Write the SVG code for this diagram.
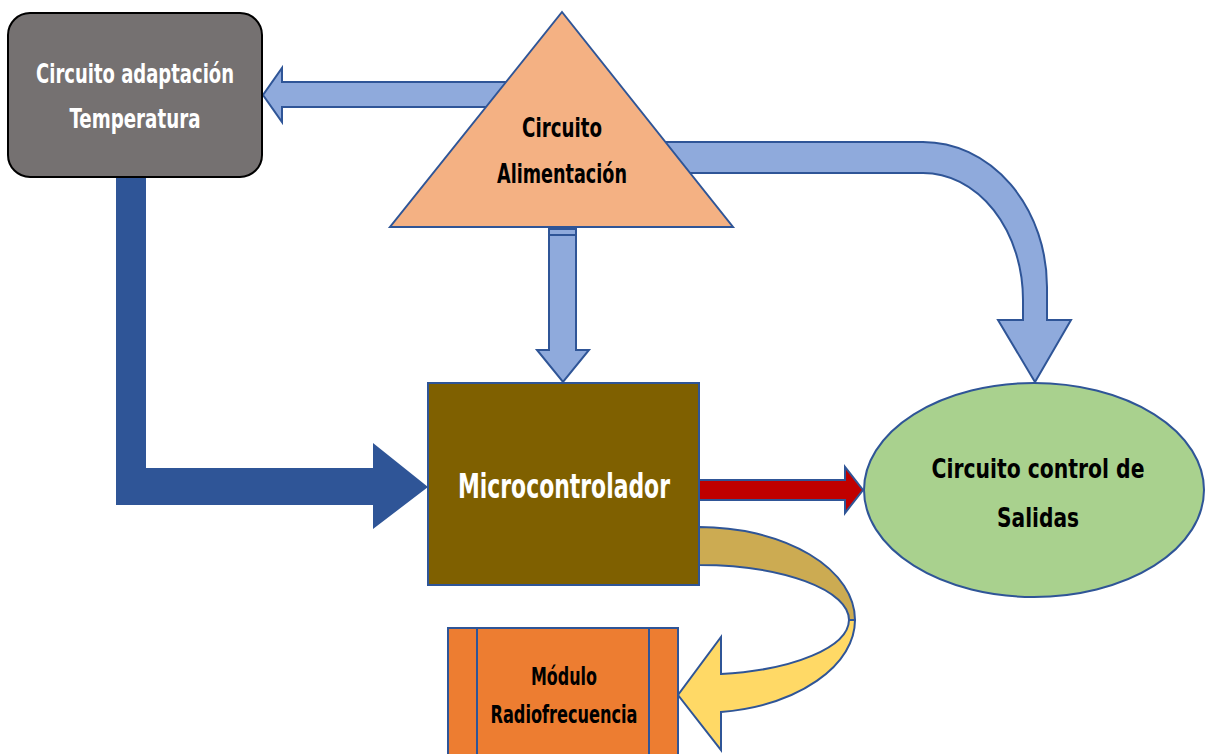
<svg xmlns="http://www.w3.org/2000/svg" width="1205" height="754" viewBox="0 0 1205 754">
<style>
.lb{fill:#8FAADC;stroke:#2F5597;stroke-width:2;stroke-linejoin:miter}
.t{font-family:"DejaVu Sans Condensed","Liberation Sans",sans-serif;font-weight:bold;text-anchor:middle}
.w{fill:#FFFFFF}
.k{fill:#000000}
</style>
<rect width="1205" height="754" fill="#FFFFFF"/>
<g id="connectors">
  <!-- triangle to temperature box -->
  <path class="lb" d="M510,82 L282,82 L282,68 L263,95 L282,122 L282,107 L510,107 Z"/>
  <!-- triangle to salidas (curved) -->
  <path class="lb" d="M660,142 L923,142 A124,145 0 0 1 1047,287 L1047,320 L1071,320 L1035,382 L998,320 L1023,320 L1023,300 A100,127 0 0 0 923,173 L660,173 Z"/>
  <!-- triangle to microcontroller -->
  <path class="lb" d="M549,229 L576,229 L576,350 L589,350 L563,382 L537,350 L549,350 Z"/>
  <line x1="549" y1="235" x2="576" y2="235" stroke="#2F5597" stroke-width="2"/>
  <!-- temperature to microcontroller -->
  <path d="M116,177 L146,177 L146,468 L373,468 L373,443 L428,487 L373,529 L373,505 L116,505 Z" fill="#2F5597"/>
  <!-- microcontroller to salidas -->
  <path d="M699,480 L845,480 L845,467 L863,490 L845,513 L845,500 L699,500 Z" fill="#C00000" stroke="#2F5597" stroke-width="2"/>
  <!-- microcontroller to modulo (curved) -->
  <path d="M699,527 A156,93 0 0 1 855,620 L849,620 A150,55 0 0 0 699,565 Z" fill="#CCAB52" stroke="#2F5597" stroke-width="2"/>
  <path d="M849,620 A150,55 0 0 1 721,674 L721,637 L678,695 L721,750 L721,712 A156,93 0 0 0 855,620 Z" fill="#FFD966" stroke="#2F5597" stroke-width="2"/>
</g>
<g id="temperatura">
  <rect x="8" y="13" width="254" height="164" rx="22" fill="#757171" stroke="#000000" stroke-width="2"/>
  <text class="t w" x="135" y="83" font-size="26" textLength="198" lengthAdjust="spacingAndGlyphs">Circuito adaptación</text>
  <text class="t w" x="135" y="128" font-size="26" textLength="131" lengthAdjust="spacingAndGlyphs">Temperatura</text>
</g>
<g id="alimentacion">
  <polygon points="562,12 733,227 390,227" fill="#F4B183" stroke="#2F5597" stroke-width="2"/>
  <text class="t k" x="562" y="137" font-size="26" textLength="80" lengthAdjust="spacingAndGlyphs">Circuito</text>
  <text class="t k" x="562" y="183" font-size="26" textLength="130" lengthAdjust="spacingAndGlyphs">Alimentación</text>
</g>
<g id="microcontrolador">
  <rect x="428" y="383" width="271" height="202" fill="#7F6000" stroke="#2F5597" stroke-width="2"/>
  <text class="t w" x="564" y="498" font-size="34" textLength="212" lengthAdjust="spacingAndGlyphs">Microcontrolador</text>
</g>
<g id="salidas">
  <ellipse cx="1034" cy="490" rx="170" ry="107" fill="#A9D18E" stroke="#2F5597" stroke-width="2"/>
  <text class="t k" x="1038" y="478" font-size="27" textLength="213" lengthAdjust="spacingAndGlyphs">Circuito control de</text>
  <text class="t k" x="1038" y="527" font-size="27" textLength="82" lengthAdjust="spacingAndGlyphs">Salidas</text>
</g>
<g id="modulo">
  <rect x="448" y="628" width="230" height="140" fill="#ED7D31" stroke="#2F5597" stroke-width="2"/>
  <line x1="477" y1="628" x2="477" y2="768" stroke="#2F5597" stroke-width="2"/>
  <line x1="649" y1="628" x2="649" y2="768" stroke="#2F5597" stroke-width="2"/>
  <text class="t k" x="564" y="685" font-size="24" textLength="66" lengthAdjust="spacingAndGlyphs">Módulo</text>
  <text class="t k" x="564" y="723" font-size="24" textLength="147" lengthAdjust="spacingAndGlyphs">Radiofrecuencia</text>
</g>
</svg>
